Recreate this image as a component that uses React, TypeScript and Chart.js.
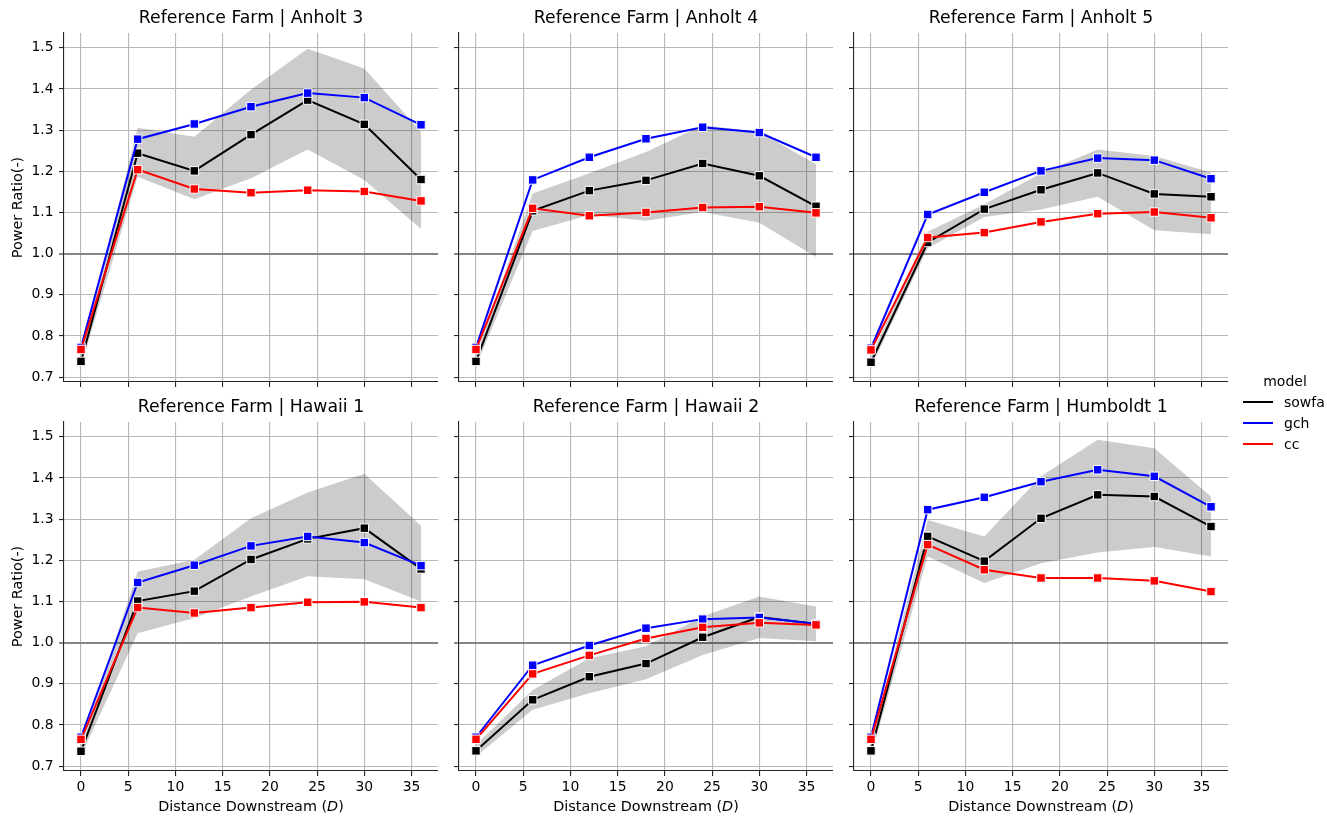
import React, { useEffect, useRef } from "react";
import { Chart, registerables } from "chart.js";

Chart.register(...registerables);

// ---------------- data ----------------
const distances = [0, 6, 12, 18, 24, 30, 36];
const xTickValues = [0, 5, 10, 15, 20, 25, 30, 35];
const yTickValues = [0.7, 0.8, 0.9, 1.0, 1.1, 1.2, 1.3, 1.4, 1.5];
const xRange = [-1.8, 37.8];
const yRange = [0.688, 1.536];
const refRatio = 1.0;

const models = ["sowfa", "gch", "cc"];
const modelColors = ["#000000", "#0000ff", "#ff0000"];
const farms = ["Anholt 3", "Anholt 4", "Anholt 5", "Hawaii 1", "Hawaii 2", "Humboldt 1"];
const titlePrefix = "Reference Farm | ";
const yAxisTitle = "Power Ratio(-)";
const xAxisTitleParts = ["Distance Downstream (", "D", ")"];
const legendTitle = "model";

const anholt3Sowfa = [0.738, 1.244, 1.201, 1.289, 1.373, 1.314, 1.18];
const anholt3SowfaLo = [0.726, 1.187, 1.132, 1.183, 1.253, 1.179, 1.06];
const anholt3SowfaHi = [0.752, 1.306, 1.284, 1.399, 1.498, 1.45, 1.296];
const anholt3Gch = [0.772, 1.278, 1.315, 1.357, 1.39, 1.379, 1.313];
const anholt3Cc = [0.767, 1.204, 1.157, 1.148, 1.154, 1.151, 1.128];

const anholt4Sowfa = [0.738, 1.104, 1.153, 1.178, 1.219, 1.189, 1.115];
const anholt4SowfaLo = [0.726, 1.055, 1.094, 1.08, 1.101, 1.075, 0.992];
const anholt4SowfaHi = [0.752, 1.146, 1.195, 1.247, 1.312, 1.296, 1.217];
const anholt4Gch = [0.772, 1.179, 1.234, 1.279, 1.307, 1.294, 1.234];
const anholt4Cc = [0.767, 1.11, 1.092, 1.1, 1.112, 1.114, 1.099];

const anholt5Sowfa = [0.736, 1.027, 1.108, 1.155, 1.196, 1.145, 1.138];
const anholt5SowfaLo = [0.725, 1.013, 1.089, 1.107, 1.138, 1.057, 1.047];
const anholt5SowfaHi = [0.75, 1.053, 1.12, 1.195, 1.253, 1.237, 1.197];
const anholt5Gch = [0.77, 1.095, 1.149, 1.201, 1.232, 1.227, 1.182];
const anholt5Cc = [0.766, 1.039, 1.051, 1.077, 1.097, 1.101, 1.087];

const hawaii1Sowfa = [0.736, 1.101, 1.125, 1.202, 1.252, 1.278, 1.179];
const hawaii1SowfaLo = [0.725, 1.023, 1.06, 1.112, 1.161, 1.154, 1.1];
const hawaii1SowfaHi = [0.752, 1.173, 1.201, 1.302, 1.365, 1.41, 1.284];
const hawaii1Gch = [0.77, 1.146, 1.188, 1.235, 1.258, 1.243, 1.187];
const hawaii1Cc = [0.765, 1.085, 1.072, 1.085, 1.098, 1.099, 1.085];

const hawaii2Sowfa = [0.737, 0.861, 0.917, 0.949, 1.013, 1.062, 1.045];
const hawaii2SowfaLo = [0.723, 0.837, 0.877, 0.911, 0.97, 1.011, 1.003];
const hawaii2SowfaHi = [0.752, 0.885, 0.962, 0.991, 1.064, 1.112, 1.088];
const hawaii2Gch = [0.77, 0.945, 0.993, 1.035, 1.057, 1.061, 1.046];
const hawaii2Cc = [0.765, 0.924, 0.969, 1.01, 1.037, 1.048, 1.043];

const humboldt1Sowfa = [0.737, 1.258, 1.198, 1.302, 1.359, 1.355, 1.282];
const humboldt1SowfaLo = [0.725, 1.209, 1.145, 1.193, 1.219, 1.232, 1.209];
const humboldt1SowfaHi = [0.752, 1.298, 1.258, 1.404, 1.493, 1.472, 1.355];
const humboldt1Gch = [0.77, 1.323, 1.353, 1.391, 1.42, 1.404, 1.33];
const humboldt1Cc = [0.765, 1.238, 1.177, 1.157, 1.157, 1.15, 1.124];

const panelSeries = [
  { sowfa: anholt3Sowfa, lo: anholt3SowfaLo, hi: anholt3SowfaHi, gch: anholt3Gch, cc: anholt3Cc },
  { sowfa: anholt4Sowfa, lo: anholt4SowfaLo, hi: anholt4SowfaHi, gch: anholt4Gch, cc: anholt4Cc },
  { sowfa: anholt5Sowfa, lo: anholt5SowfaLo, hi: anholt5SowfaHi, gch: anholt5Gch, cc: anholt5Cc },
  { sowfa: hawaii1Sowfa, lo: hawaii1SowfaLo, hi: hawaii1SowfaHi, gch: hawaii1Gch, cc: hawaii1Cc },
  { sowfa: hawaii2Sowfa, lo: hawaii2SowfaLo, hi: hawaii2SowfaHi, gch: hawaii2Gch, cc: hawaii2Cc },
  { sowfa: humboldt1Sowfa, lo: humboldt1SowfaLo, hi: humboldt1SowfaHi, gch: humboldt1Gch, cc: humboldt1Cc },
];

// ---------------- layout ----------------
const FONT = "'DejaVu Sans', 'Liberation Sans', sans-serif";
const FIG_W = 1327;
const FIG_H = 818;
const AXES_W = 374;
const AXES_H = 349;
const Y_AXIS_W = 64;
const TITLE_H = 33;
const COL_LEFTS = [64, 459, 854];
const ROW_TOPS = [33, 422];
const TOP_XAXIS_H = 15;
const TITLE_SIZE = 17.3;
const LABEL_SIZE = 14.4;
const TICK_SIZE = 13.9;

const GRID_COLOR = "#b8b8b8";
const SPINE_COLOR = "#262626";

function Panel({ idx }: { idx: number }) {
  const ref = useRef<HTMLCanvasElement | null>(null);
  const row = Math.floor(idx / 3);
  const col = idx % 3;
  const canvasLeft = COL_LEFTS[col] - Y_AXIS_W;
  const canvasTop = ROW_TOPS[row] - TITLE_H;
  const W = Y_AXIS_W + AXES_W;
  const H = row === 0 ? TITLE_H + AXES_H + TOP_XAXIS_H : FIG_H - canvasTop;
  const xAxisH = H - TITLE_H - AXES_H;

  useEffect(() => {
    const s = panelSeries[idx];
    const pts = (arr: number[]) => distances.map((d, i) => ({ x: d, y: arr[i] }));
    const line = (arr: number[], color: string, order: number, label: string) => ({
      label,
      data: pts(arr),
      borderColor: color,
      backgroundColor: color,
      borderWidth: 2,
      pointStyle: "rect",
      pointRadius: 6,
      pointHoverRadius: 6,
      pointBackgroundColor: color,
      pointBorderColor: "#ffffff",
      pointBorderWidth: 1,
      tension: 0,
      fill: false,
      order,
    });

    const isRef = (ctx: any) => ctx.tick && Math.abs(ctx.tick.value - refRatio) < 1e-9;

    const xTitlePlugin = {
      id: "xTitleItalic",
      afterDraw(chart: any) {
        if (row !== 1) return;
        const { ctx, chartArea } = chart;
        ctx.save();
        ctx.fillStyle = "#000000";
        ctx.textBaseline = "middle";
        ctx.textAlign = "left";
        const normal = `${LABEL_SIZE}px ${FONT}`;
        const italic = `italic ${LABEL_SIZE}px ${FONT}`;
        const fonts = [normal, italic, normal];
        const widths = xAxisTitleParts.map((t, i) => {
          ctx.font = fonts[i];
          return ctx.measureText(t).width;
        });
        const total = widths.reduce((a, b) => a + b, 0);
        let x = (chartArea.left + chartArea.right) / 2 - total / 2;
        const y = chartArea.bottom + 36.5;
        xAxisTitleParts.forEach((t, i) => {
          ctx.font = fonts[i];
          ctx.fillText(t, x, y);
          x += widths[i];
        });
        ctx.restore();
      },
    };

    const chart = new Chart(ref.current as HTMLCanvasElement, {
      type: "line",
      data: {
        datasets: [
          {
            label: "sowfa_hi",
            data: pts(s.hi),
            borderColor: "rgba(0,0,0,0)",
            borderWidth: 0,
            pointRadius: 0,
            fill: "+1",
            backgroundColor: "rgba(0,0,0,0.2)",
            tension: 0,
            order: 3,
          },
          {
            label: "sowfa_lo",
            data: pts(s.lo),
            borderColor: "rgba(0,0,0,0)",
            borderWidth: 0,
            pointRadius: 0,
            fill: false,
            tension: 0,
            order: 3,
          },
          line(s.sowfa, modelColors[0], 2, models[0]),
          line(s.gch, modelColors[1], 1, models[1]),
          line(s.cc, modelColors[2], 0, models[2]),
        ] as any,
      },
      options: {
        animation: false,
        responsive: false,
        devicePixelRatio: 1,
        events: [],
        layout: { padding: 0, autoPadding: false },
        plugins: {
          legend: { display: false },
          tooltip: { enabled: false },
          title: {
            display: true,
            text: titlePrefix + farms[idx],
            color: "#000000",
            font: { family: FONT, size: TITLE_SIZE, weight: "normal" },
            padding: { top: 7.9, bottom: 4.34 },
            fullSize: false,
          },
        },
        scales: {
          x: {
            type: "linear",
            min: xRange[0],
            max: xRange[1],
            afterBuildTicks: (sc: any) => {
              sc.ticks = xTickValues.map((v) => ({ value: v }));
            },
            afterFit: (sc: any) => {
              sc.height = xAxisH;
            },
            grid: {
              color: GRID_COLOR,
              lineWidth: 1.1,
              drawTicks: true,
              tickLength: 5,
              tickColor: SPINE_COLOR,
              tickWidth: 1.1,
            },
            border: { display: true, color: SPINE_COLOR, width: 1.1 },
            ticks: {
              display: row === 1,
              color: "#000000",
              font: { family: FONT, size: TICK_SIZE },
              padding: 3.5,
              maxRotation: 0,
              autoSkip: false,
              callback: (v: any) => String(v),
            },
            title: { display: false },
          },
          y: {
            type: "linear",
            min: yRange[0],
            max: yRange[1],
            afterBuildTicks: (sc: any) => {
              sc.ticks = yTickValues.map((v) => ({ value: v }));
            },
            afterFit: (sc: any) => {
              sc.width = Y_AXIS_W;
            },
            grid: {
              color: (ctx: any) => (isRef(ctx) ? "#858585" : GRID_COLOR),
              lineWidth: (ctx: any) => (isRef(ctx) ? 2 : 1.1),
              drawTicks: true,
              tickLength: 5,
              tickColor: SPINE_COLOR,
              tickWidth: 1.1,
            },
            border: { display: true, color: SPINE_COLOR, width: 1.1 },
            ticks: {
              display: col === 0,
              color: "#000000",
              font: { family: FONT, size: TICK_SIZE },
              padding: 5.5,
              autoSkip: false,
              callback: (v: any) => Number(v).toFixed(1),
            },
            title: {
              display: col === 0,
              text: yAxisTitle,
              color: "#000000",
              font: { family: FONT, size: LABEL_SIZE },
              padding: { top: 9.5, bottom: 0 },
            },
          },
        },
      } as any,
      plugins: [xTitlePlugin],
    });
    return () => chart.destroy();
  }, [idx]);

  return (
    <canvas
      ref={ref}
      width={W}
      height={H}
      style={{ position: "absolute", left: canvasLeft, top: canvasTop, width: W, height: H }}
    />
  );
}

function Legend() {
  const rowsY = [402, 422.5, 443.5];
  return (
    <div style={{ position: "absolute", left: 0, top: 0, width: FIG_W, height: FIG_H, pointerEvents: "none", fontFamily: FONT, fontSize: 14, color: "#000" }}>
      <div style={{ position: "absolute", left: 1245, width: 80, top: 381 - 9, height: 18, lineHeight: "18px", textAlign: "center" }}>
        {legendTitle}
      </div>
      {models.map((m, i) => (
        <React.Fragment key={m}>
          <div style={{ position: "absolute", left: 1243, top: rowsY[i] - 1, width: 30, height: 2, background: modelColors[i] }} />
          <div style={{ position: "absolute", left: 1284, top: rowsY[i] - 9, height: 18, lineHeight: "18px", whiteSpace: "nowrap" }}>{m}</div>
        </React.Fragment>
      ))}
    </div>
  );
}

export default function App() {
  return (
    <div style={{ position: "fixed", left: 0, top: 0, width: FIG_W, height: FIG_H, background: "#ffffff", overflow: "hidden" }}>
      {farms.map((f, i) => (
        <Panel key={f} idx={i} />
      ))}
      <Legend />
    </div>
  );
}
